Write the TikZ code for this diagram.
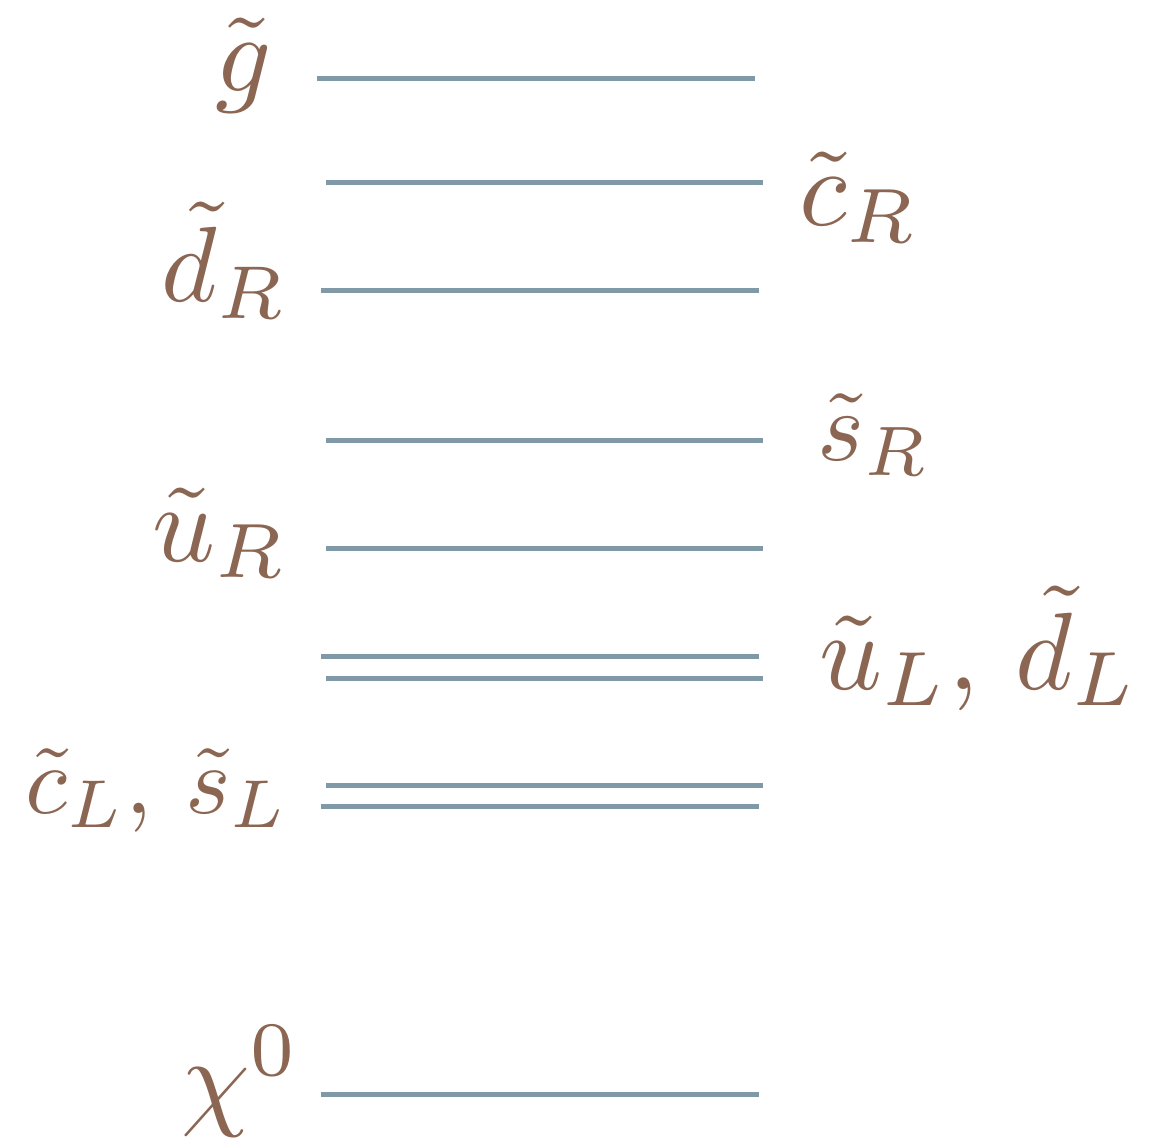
\documentclass[tikz,border=0pt]{standalone}
\definecolor{levelcol}{RGB}{127,154,166}
\definecolor{labelcol}{RGB}{139,102,82}
\newcommand\biglabel[2][11]{\scalebox{#1}{#2}}
\begin{document}
\begin{tikzpicture}[x=1pt,y=-1pt,
  level/.style={draw=levelcol,line width=5pt},
  lab/.style={text=labelcol,inner sep=0pt}]
\useasboundingbox (0,0) rectangle (1160,1139);
% levels
\coordinate (ga) at (317,79);   \coordinate (gb) at (755,79);
\coordinate (cra) at (326,183); \coordinate (crb) at (763,183);
\coordinate (dra) at (321,291); \coordinate (drb) at (759,291);
\coordinate (sra) at (326,441); \coordinate (srb) at (763,441);
\coordinate (ura) at (326,548); \coordinate (urb) at (763,548);
\coordinate (ula) at (321,656); \coordinate (ulb) at (759,656);
\coordinate (dla) at (326,678); \coordinate (dlb) at (763,678);
\coordinate (cla) at (326,785); \coordinate (clb) at (763,785);
\coordinate (sla) at (321,806); \coordinate (slb) at (759,806);
\coordinate (xa) at (321,1094); \coordinate (xb) at (759,1094);
\draw[level] (ga) -- (gb);
\draw[level] (cra) -- (crb);
\draw[level] (dra) -- (drb);
\draw[level] (sra) -- (srb);
\draw[level] (ura) -- (urb);
\draw[level] (ula) -- (ulb);
\draw[level] (dla) -- (dlb);
\draw[level] (cla) -- (clb);
\draw[level] (sla) -- (slb);
\draw[level] (xa) -- (xb);
% labels
\node[lab,anchor=base east] (lg) at (272,92) {\biglabel{$\tilde g$}};
\node[lab,anchor=base west] (lcr) at (799,226) {\biglabel{$\tilde c_R$}};
\node[lab,anchor=base east] (ldr) at (288,302) {\biglabel[10.7]{$\tilde d_R$}};
\node[lab,anchor=base west] (lsr) at (817,461) {\biglabel[10]{$\tilde s_R$}};
\node[lab,anchor=base east] (lur) at (288,561) {\biglabel{$\tilde u_R$}};
\node[lab,anchor=base west] (lul) at (819,689) {\biglabel{$\tilde u_L$, $\tilde d_L$}};
\node[lab,anchor=base east] (lcl) at (289,813) {\biglabel[9.7]{$\tilde c_L$, $\tilde s_L$}};
\node[lab,anchor=base east] (lx) at (300,1115) {\biglabel{$\chi^0$}};
\end{tikzpicture}
\end{document}
